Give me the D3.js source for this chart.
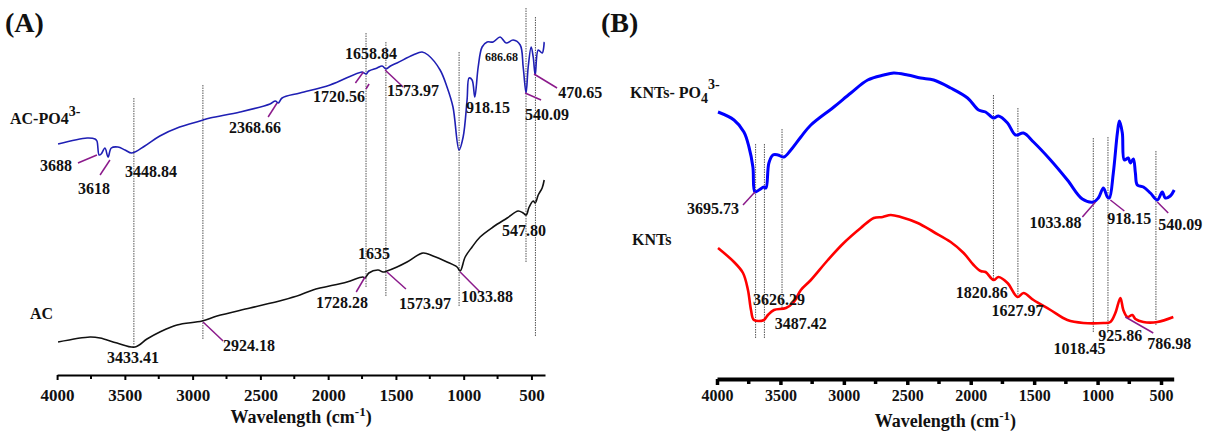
<!DOCTYPE html>
<html>
<head>
<meta charset="utf-8">
<script src="https://cdn.jsdelivr.net/npm/d3@7"></script>
<style>
  body { margin: 0; background: #fff; }
  text { font-family: "Liberation Serif", "Times New Roman", serif; font-weight: bold; fill: #111; }
</style>
</head>
<body>
<svg id="chart" width="1213" height="436"></svg>
<script>
// x axis ticks (wavenumber, cm-1)
const majorTicks = [4000, 3500, 3000, 2500, 2000, 1500, 1000, 500];
const minorTicks = [3750, 3250, 2750, 2250, 1750, 1250, 750];

// Panel A spectra: [wavenumber, transmittance (a.u.)]
const acPo4 = [[3993,216],[3779,222],[3720,221],[3706,219],[3690,205],[3675,206],[3647,212],[3624,203],[3600,212],[3551,213],[3499,210],[3448,207],[3353,214],[3242,224],[3096,233],[2946,239],[2872,242],[2650,248],[2429,256],[2390,259],[2368,257],[2340,262],[2208,267],[1986,275],[1750,288],[1735,287],[1720,286],[1700,289],[1639,292],[1602,294],[1573,291],[1540,294],[1492,297],[1374,305],[1307,308],[1263,305],[1174,290],[1123,273],[1079,253],[1034,210],[1004,223],[975,260],[960,282],[938,280],[918,263],[893,293],[864,313],[827,318],[783,318],[731,323],[686,317],[635,320],[583,315],[561,293],[540,267],[524,293],[502,313],[487,303],[472,285],[450,310],[421,307],[406,318]];
const ac = [[3993,18],[3757,23],[3683,22],[3558,17],[3425,13],[3337,21],[3242,28],[3115,35],[2930,39],[2820,44],[2576,52],[2332,60],[2208,65],[2112,70],[1861,78],[1745,83],[1728,82],[1700,87],[1632,90],[1595,88],[1566,89],[1492,93],[1418,98],[1300,107],[1226,104],[1123,98],[1049,93],[1026,89],[989,103],[938,113],[879,123],[783,133],[679,142],[598,149],[561,147],[539,145],[517,153],[487,159],[472,157],[450,165],[421,172],[406,180]];

// Panel B spectra
const kntsPo4 = [[3992,248],[3866,240],[3788,228],[3748,213],[3717,193],[3701,168],[3669,170],[3630,173],[3614,172],[3591,197],[3559,205],[3520,205],[3473,203],[3418,210],[3339,223],[3260,235],[3079,253],[2945,267],[2812,280],[2686,285],[2607,287],[2497,285],[2395,282],[2292,280],[2158,272],[2025,262],[1938,250],[1883,248],[1820,242],[1781,244],[1710,237],[1647,225],[1584,227],[1505,218],[1371,200],[1238,180],[1120,161],[1033,158],[994,162],[954,172],[923,163],[907,162],[876,187],[844,227],[828,239],[805,227],[789,200],[758,202],[742,197],[718,201],[702,187],[687,175],[639,173],[584,167],[529,160],[490,168],[466,162],[427,164],[396,170]];
const knts = [[3992,112],[3866,98],[3795,87],[3756,70],[3732,50],[3709,40],[3630,40],[3599,45],[3551,50],[3457,52],[3394,58],[3339,70],[3260,80],[3126,100],[3001,117],[2867,132],[2764,142],[2694,143],[2631,145],[2552,143],[2418,137],[2292,128],[2158,118],[2056,107],[1977,95],[1922,89],[1883,88],[1820,80],[1781,83],[1710,77],[1631,63],[1584,67],[1505,60],[1371,50],[1238,40],[1112,37],[954,37],[899,38],[860,47],[820,62],[797,50],[765,43],[726,45],[702,41],[639,38],[529,38],[403,43]];

// dotted guide lines: [wavenumber, top, bottom]
const guidesA = [[3433.41,262,15],[2924.18,275,20],[1720.56,327,72],[1573.97,318,64],[1033.88,308,53],[540.09,352,97],[470.65,343,24]];
const guidesB = [[3695.73,216,22],[3626.29,216,22],[3487.42,231,50],[1820.86,265,80],[1627.97,252,63],[1033.88,222,27],[918.15,223,30],[540.09,209,34]];

// peak labels: [text, wavenumber, T, fontSize]
const peaksA = [["3688",4126,189,16],["3618",3846,166,16],["3448.84",3499,183,16],["2368.66",2732,227,16],["1658.84",1876,301,16],["1720.56",2112,258,16],["1573.97",1566,264,16],["918.15",983,247,16],["686.68",843,299,12],["540.09",547,240,16],["470.65",303,262,16],["3433.41",3632,-3,16],["2924.18",2775,9,16],["1635",1780,101,16],["1728.28",2090,52,16],["1573.97",1477,51,16],["1033.88",1020,58,16],["547.80",717,124,16]];
const peaksB = [["3695.73",4236,146,16],["1033.88",1537,132,16],["918.15",923,136,16],["540.09",522,130,16],["3626.29",3717,55,16],["3487.42",3544,31,16],["1820.86",2119,62,16],["1627.97",1836,44,16],["1018.45",1348,6,16],["925.86",994,19,16],["786.98",608,11,16]];

// leader lines: [wn1, T1, wn2, T2]
const leadersA = [[3846,197,3706,205],[3683,185,3610,200],[2443,243,2377,257],[1799,277,1740,288],[1721,271,1698,276],[1580,290,1447,273],[547,267,429,260],[481,286,311,272],[2923,38,2775,19],[1793,68,1728,83],[1566,88,1426,71],[1026,88,879,68]];
const leadersB = [[3795,155,3701,168],[1120,143,1017,158],[899,160,789,149],[529,158,443,147],[781,43,561,27]];

const svg = d3.select('#chart');

function drawPanel(p) {
    const x = d3.scaleLinear().domain([4000, 400]).range(p.xRange);
    const y = d3.scaleLinear().domain([0, 340]).range([360, 20]);
    const g = svg.append('g');

    // guide lines
    g.selectAll('line.guide')
        .data(p.guides)
        .join('line')
        .attr('x1', d => x(d[0])).attr('x2', d => x(d[0]))
        .attr('y1', d => y(d[1])).attr('y2', d => y(d[2]))
        .attr('stroke', '#555')
        .attr('stroke-width', 1)
        .attr('stroke-dasharray', '1.5,1');

    // spectra
    const line = d3.line()
        .x(d => x(d[0]))
        .y(d => y(d[1]))
        .curve(d3.curveCatmullRom.alpha(0.5));
    p.series.forEach(s => {
        g.append('path')
            .datum(s.data)
            .attr('d', line)
            .attr('fill', 'none')
            .attr('stroke', s.color)
            .attr('stroke-width', s.width)
            .attr('stroke-linejoin', 'round');
    });

    // leaders
    g.selectAll('line.leader')
        .data(p.leaders)
        .join('line')
        .attr('x1', d => x(d[0])).attr('y1', d => y(d[1]))
        .attr('x2', d => x(d[2])).attr('y2', d => y(d[3]))
        .attr('stroke', '#8b1a8b')
        .attr('stroke-width', 1.5);

    // peak labels
    g.selectAll('text.peak')
        .data(p.peaks)
        .join('text')
        .attr('x', d => x(d[1]))
        .attr('y', d => y(d[2]))
        .style('font-size', d => d[3] + 'px')
        .text(d => d[0]);

    // x axis
    const axis = g.append('g')
        .attr('transform', `translate(0,${p.axisY})`)
        .call(d3.axisBottom(x).tickValues(majorTicks).tickFormat(d3.format('d'))
            .tickSize(p.tickLen).tickSizeOuter(0).tickPadding(p.tickPad));
    axis.select('.domain').attr('stroke', '#000').attr('stroke-width', p.axisWidth);
    axis.selectAll('.tick line').attr('stroke', '#000').attr('stroke-width', p.tickWidth);
    axis.selectAll('.tick text')
        .style('font-size', p.tickFont + 'px')
        .style('font-family', '"Liberation Serif", serif')
        .style('font-weight', 'bold')
        .attr('fill', '#111');

    g.append('g')
        .attr('transform', `translate(0,${p.axisY})`)
        .selectAll('line')
        .data(minorTicks)
        .join('line')
        .attr('x1', d => x(d)).attr('x2', d => x(d))
        .attr('y1', 0).attr('y2', p.tickLen - 1)
        .attr('stroke', '#000')
        .attr('stroke-width', p.tickWidth);

    // axis title
    const title = g.append('text')
        .attr('x', (p.xRange[0] + p.xRange[1]) / 2)
        .attr('y', p.titleY)
        .attr('text-anchor', 'middle')
        .style('font-size', '18px');
    title.append('tspan').text('Wavelength (cm');
    title.append('tspan').attr('dy', -7).style('font-size', '13px').text('-1');
    title.append('tspan').attr('dy', 7).text(')');

    // panel tag
    g.append('text')
        .attr('x', p.tag[1]).attr('y', 32)
        .style('font-size', '28px')
        .text(p.tag[0]);
}

drawPanel({
    xRange: [57.1, 545], axisY: 375, tickLen: 5, tickPad: 9, axisWidth: 2, tickWidth: 2, tickFont: 17, titleY: 423,
    tag: ['(A)', 5],
    guides: guidesA, leaders: leadersA, peaks: peaksA,
    series: [
        { data: acPo4, color: '#1f1fb4', width: 1.6 },
        { data: ac, color: '#111', width: 1.6 }
    ]
});

drawPanel({
    xRange: [717, 1173.7], axisY: 379, tickLen: 6, tickPad: 5, axisWidth: 4, tickWidth: 3.5, tickFont: 16, titleY: 427,
    tag: ['(B)', 601],
    guides: guidesB, leaders: leadersB, peaks: peaksB,
    series: [
        { data: kntsPo4, color: '#0000ff', width: 3 },
        { data: knts, color: '#ff0000', width: 2.6 }
    ]
});

// series names
const nameA1 = svg.append('text').attr('x', 10).attr('y', 124).style('font-size', '16px');
nameA1.append('tspan').text('AC-PO4');
nameA1.append('tspan').attr('dy', -8).style('font-size', '14px').text('3-');
svg.append('text').attr('x', 30).attr('y', 319).style('font-size', '16px').text('AC');

const nameB1 = svg.append('text').attr('x', 630).attr('y', 98).style('font-size', '16px');
nameB1.append('tspan').text('KNTs- PO');
nameB1.append('tspan').attr('dy', 5).style('font-size', '14px').text('4');
nameB1.append('tspan').attr('dy', -14).style('font-size', '14px').text('3-');
svg.append('text').attr('x', 632).attr('y', 245).style('font-size', '16px').text('KNTs');
</script>
</body>
</html>
